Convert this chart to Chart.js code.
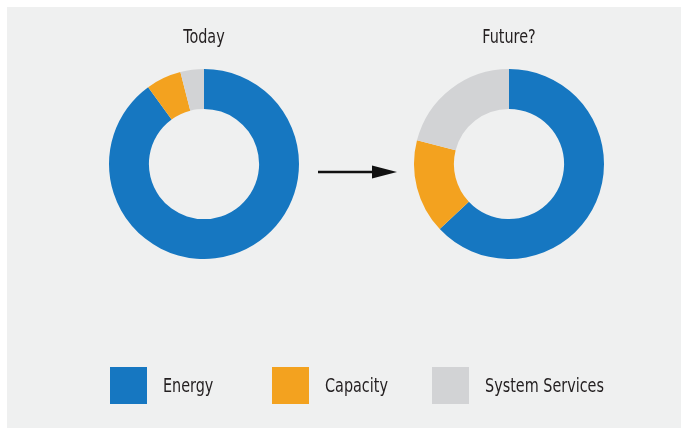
<!DOCTYPE html>
<html>
<head>
<meta charset="utf-8">
<script src="https://cdn.jsdelivr.net/npm/chart.js@4.4.1/dist/chart.umd.min.js"></script>
<style>
  html, body { margin: 0; padding: 0; background: #ffffff; }
  #panel { position: absolute; left: 7px; top: 7px; width: 674px; height: 421px; background: #eff0f0; }
  .donut { position: absolute; top: 20px; width: 220px; height: 239px; }
  #arrow { position: absolute; left: 0; top: 0; }
  .legend-box { position: absolute; top: 367px; width: 37px; height: 37px; }
  .legend-text { position: absolute; top: 367px; height: 37px; line-height: 37px; white-space: nowrap;
    font-family: "DejaVu Sans Condensed", "Liberation Sans Narrow", sans-serif;
    font-size: 20px; color: #231f20; transform: scaleX(0.8); transform-origin: left center; }
</style>
</head>
<body>
<div id="panel"></div>
<div class="donut" style="left:94px"><canvas id="chart-today"></canvas></div>
<div class="donut" style="left:399px"><canvas id="chart-future"></canvas></div>
<svg id="arrow" width="681" height="428">
  <line x1="318" y1="172" x2="376" y2="172" stroke="#111" stroke-width="2.5"/>
  <polygon points="372,165.5 397,172 372,178.5" fill="#111"/>
</svg>
<div id="legend"></div>
<script>
// data
var categories = ["Energy", "Capacity", "System Services"];
var todayValues = [90, 6, 4];
var futureValues = [63, 16, 21];
var chartTitles = ["Today", "Future?"];
var colors = ["#1677c1", "#f3a21f", "#d2d3d5"];

var fontFamily = '"DejaVu Sans Condensed", "Liberation Sans Narrow", sans-serif';

// title drawn narrower than the installed condensed font allows
var narrowTitle = {
    id: "narrowTitle",
    afterDraw: function (chart, args, opts) {
        var ctx = chart.ctx;
        ctx.save();
        ctx.font = "20px " + fontFamily;
        ctx.fillStyle = "#231f20";
        ctx.textAlign = "center";
        ctx.textBaseline = "middle";
        ctx.translate(chart.width / 2, opts.y);
        ctx.scale(0.8, 1);
        ctx.fillText(opts.text, 0, 0);
        ctx.restore();
    }
};

function makeDonut(id, title, values) {
    var ctx = document.getElementById(id).getContext("2d");
    return new Chart(ctx, {
        type: "doughnut",
        data: {
            labels: categories,
            datasets: [{
                data: values,
                backgroundColor: colors,
                borderWidth: 0,
                hoverOffset: 0
            }]
        },
        options: {
            responsive: true,
            maintainAspectRatio: false,
            animation: false,
            cutout: "58%",
            layout: { padding: { top: 49 } },
            plugins: {
                legend: { display: false },
                tooltip: { enabled: false },
                narrowTitle: { text: title, y: 18 }
            }
        },
        plugins: [narrowTitle]
    });
}

makeDonut("chart-today", chartTitles[0], todayValues);
makeDonut("chart-future", chartTitles[1], futureValues);

// legend
var boxLeft = [110, 272, 432];
var legend = document.getElementById("legend");
categories.forEach(function (name, i) {
    var box = document.createElement("div");
    box.className = "legend-box";
    box.style.left = boxLeft[i] + "px";
    box.style.background = colors[i];
    legend.appendChild(box);

    var label = document.createElement("div");
    label.className = "legend-text";
    label.style.left = (boxLeft[i] + 53) + "px";
    label.textContent = name;
    legend.appendChild(label);
});
</script>
</body>
</html>
